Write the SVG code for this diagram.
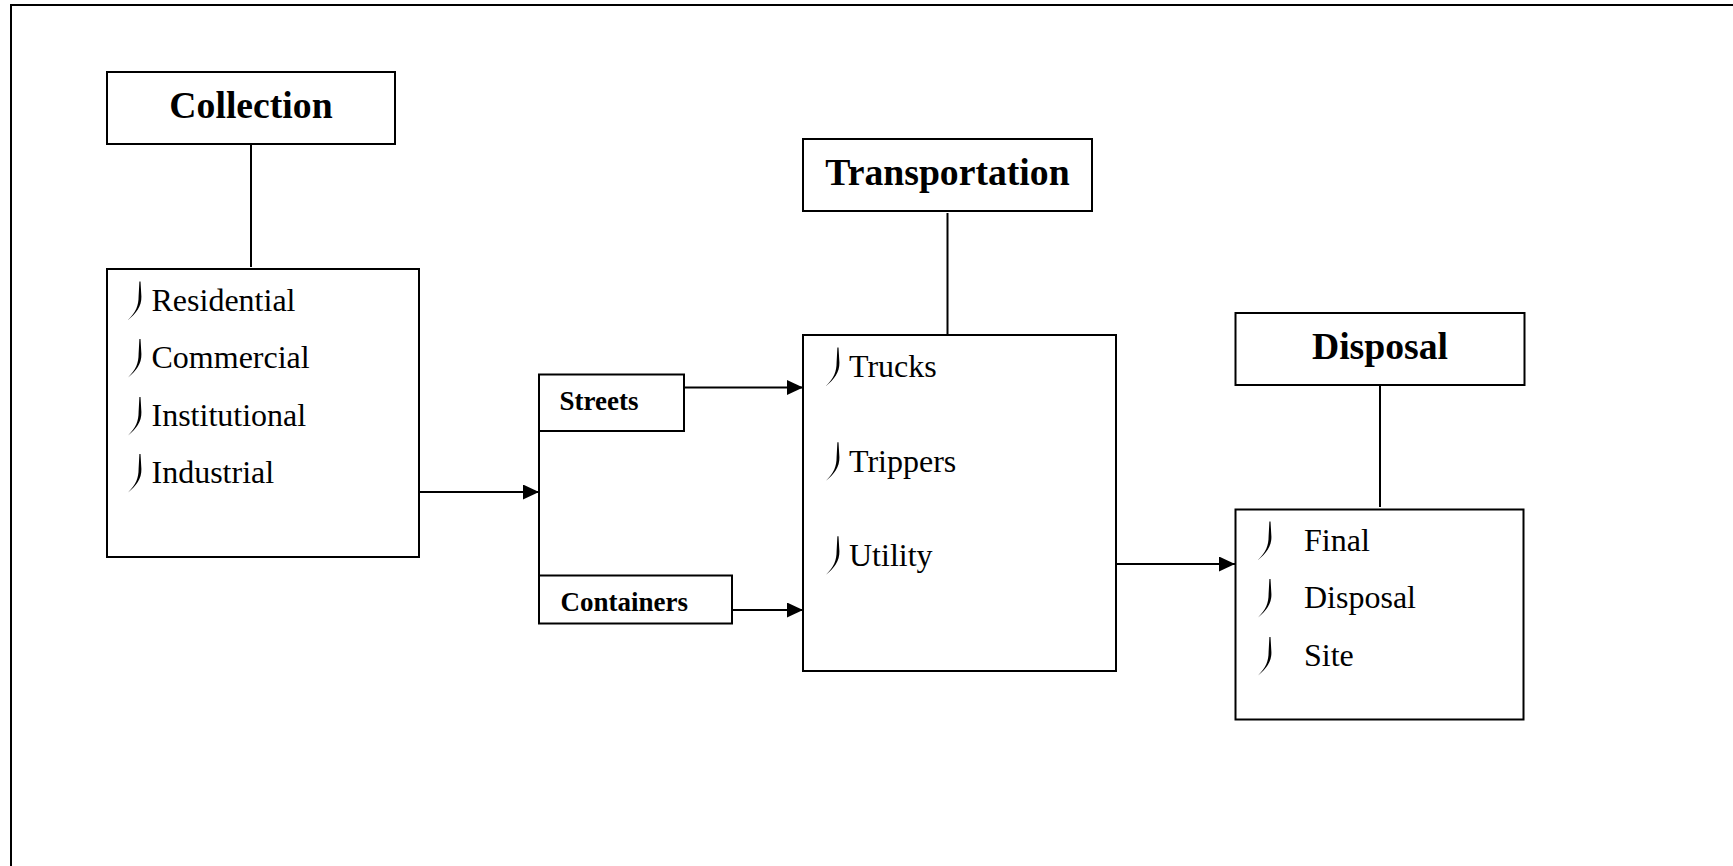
<svg xmlns="http://www.w3.org/2000/svg" xmlns:xlink="http://www.w3.org/1999/xlink" width="1733" height="866" viewBox="0 0 1733 866">
<style>
.box{fill:#fff;stroke:#000;stroke-width:2}
.ln{fill:none;stroke:#000;stroke-width:2}
.hd{font-family:"Liberation Serif","Times New Roman",serif;font-weight:bold;font-size:37.7px;fill:#000;text-anchor:middle}
.sm{font-family:"Liberation Serif","Times New Roman",serif;font-weight:bold;font-size:27px;fill:#000}
.it{font-family:"Liberation Serif","Times New Roman",serif;font-size:32px;fill:#000}
.bl{fill:#000}
</style>
<defs>
<marker id="ah" markerWidth="16" markerHeight="15" refX="16" refY="7.5" orient="auto" markerUnits="userSpaceOnUse">
<path d="M0,0 L16,7.5 L0,15 Z" fill="#000"/>
</marker>
<path id="bul" class="bl" d="M0,0 L0.9,15 C1.2,25 -4.5,32 -12.5,38.5 C-4.5,30.5 -1.9,24 -1.9,15 L-1.1,0 Z"/>
</defs>
<rect width="1733" height="866" fill="#fff"/>
<path class="ln" d="M11,900 L11,5 L1760,5"/>

<g id="connectors">
<line class="ln" x1="251" y1="144" x2="251" y2="267"/>
<line class="ln" x1="947.5" y1="213" x2="947.5" y2="335"/>
<line class="ln" x1="1380" y1="385" x2="1380" y2="507"/>
<line class="ln" x1="539" y1="431" x2="539" y2="576"/>
<line class="ln" x1="419" y1="492" x2="539" y2="492" marker-end="url(#ah)"/>
<line class="ln" x1="684" y1="387.5" x2="803" y2="387.5" marker-end="url(#ah)"/>
<line class="ln" x1="732" y1="610" x2="803" y2="610" marker-end="url(#ah)"/>
<line class="ln" x1="1116" y1="564" x2="1235" y2="564" marker-end="url(#ah)"/>
</g>

<g id="collection-title">
<rect class="box" x="107" y="72" width="288" height="72"/>
<text class="hd" x="251" y="118">Collection</text>
</g>
<g id="collection-list">
<rect class="box" x="107" y="269" width="312" height="288"/>
<use href="#bul" x="140.5" y="281.5"/>
<text class="it" x="151.5" y="310.7">Residential</text>
<use href="#bul" x="140.5" y="339"/>
<text class="it" x="151.5" y="368">Commercial</text>
<use href="#bul" x="140.5" y="397"/>
<text class="it" x="151.5" y="426">Institutional</text>
<use href="#bul" x="140.5" y="454"/>
<text class="it" x="151.5" y="483">Industrial</text>
</g>

<g id="streets">
<rect class="box" x="539" y="374.5" width="145" height="56.5"/>
<text class="sm" x="559.5" y="410">Streets</text>
</g>
<g id="containers">
<rect class="box" x="539" y="575.5" width="193" height="48"/>
<text class="sm" x="560.5" y="610.5">Containers</text>
</g>

<g id="transportation-title">
<rect class="box" x="803" y="139" width="289" height="72"/>
<text class="hd" x="947.5" y="185">Transportation</text>
</g>
<g id="transportation-list">
<rect class="box" x="803" y="335" width="313" height="336"/>
<use href="#bul" x="838.5" y="347.5"/>
<text class="it" x="849" y="377.3">Trucks</text>
<use href="#bul" x="838.5" y="442.3"/>
<text class="it" x="849" y="472">Trippers</text>
<use href="#bul" x="838.5" y="536.3"/>
<text class="it" x="849" y="566">Utility</text>
</g>

<g id="disposal-title">
<rect class="box" x="1235.5" y="313" width="289" height="72"/>
<text class="hd" x="1380" y="359.3">Disposal</text>
</g>
<g id="disposal-list">
<rect class="box" x="1235.5" y="509.5" width="288" height="210"/>
<use href="#bul" x="1270.5" y="521.5"/>
<text class="it" x="1304" y="550.7">Final</text>
<use href="#bul" x="1270.5" y="579"/>
<text class="it" x="1304" y="608.3">Disposal</text>
<use href="#bul" x="1270.5" y="637"/>
<text class="it" x="1304" y="666">Site</text>
</g>
</svg>
